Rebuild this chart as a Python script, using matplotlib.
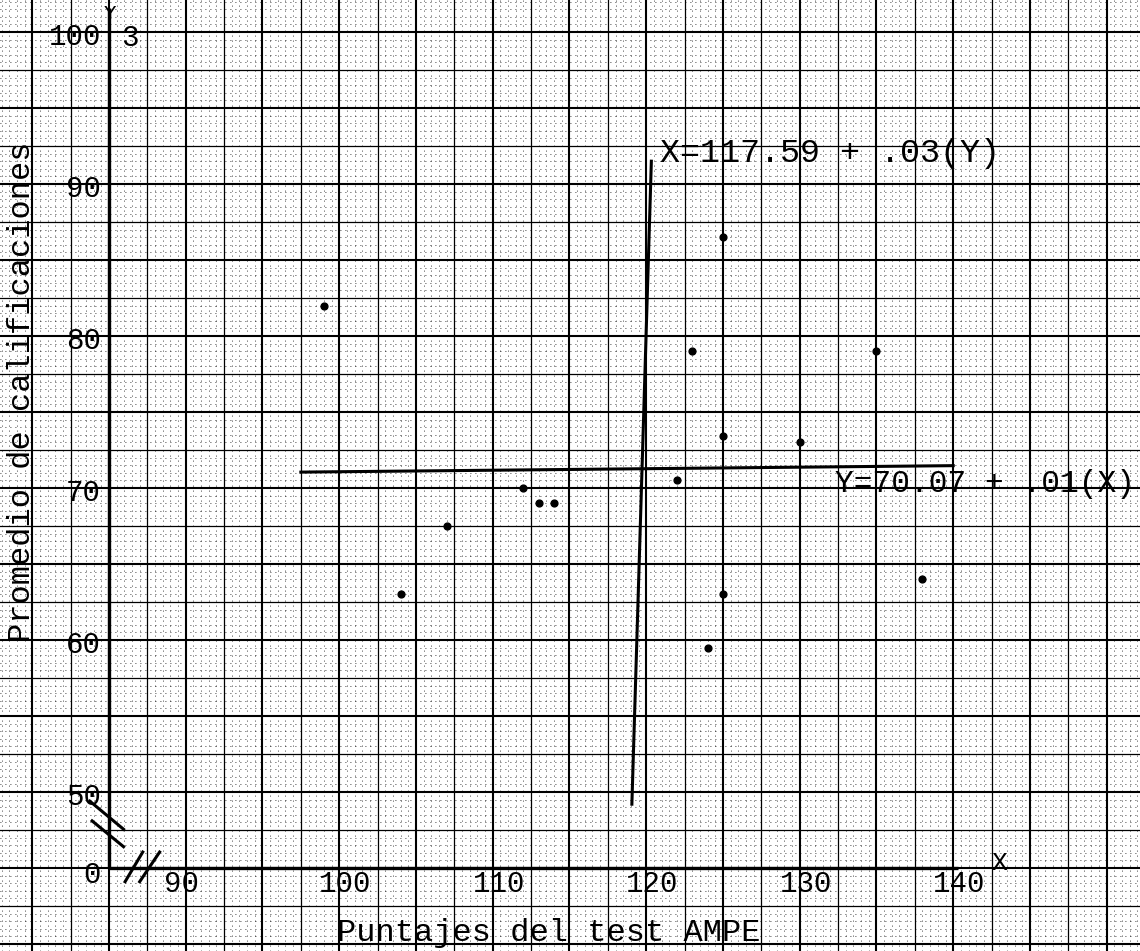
import numpy as np
import matplotlib.pyplot as plt

# puntajes AMPE (X) y promedio de calificaciones (Y)
ampe = [99, 104, 107, 112, 113, 114, 122, 123, 124, 125, 125, 125, 130, 135, 138]
promedio = [82, 63, 67.5, 70, 69, 69, 70.5, 79, 59.5, 86.5, 73.4, 63, 73, 79, 64]

# rectas de regresion
a_yx, b_yx = 70.07, 0.01   # Y = a + b X
a_xy, b_xy = 117.59, 0.03  # X = a + b Y

x_ticks = [90, 100, 110, 120, 130, 140]
y_ticks = [50, 60, 70, 80, 90, 100]

x0, y0 = 85, 45  # origen real del grafico (ejes cortados)
mono = 'Liberation Mono'

fig = plt.figure(figsize=(11.4, 9.51), dpi=100)
ax = fig.add_axes([0, 0, 1, 1])
ax.set_xlim(77.90, 152.17)
ax.set_ylim(39.54, 102.105)
ax.axis('off')

xmin, xmax = ax.get_xlim()
ymin, ymax = ax.get_ylim()

# papel milimetrado
fine_x = [v for v in np.arange(77.5, 152.6, 0.5) if v % 2.5]
fine_y = [v for v in np.arange(37.5, 102.6, 0.5) if v % 2.5]
ax.vlines(fine_x, ymin, ymax, colors='k', linestyles=(0, (1, 5)), lw=0.6)
ax.hlines(fine_y, xmin, xmax, colors='k', linestyles=(0, (1, 5)), lw=0.6)
for v in np.arange(77.5, 152.6, 2.5):
    ax.axvline(v, color='k', lw=1.5 if v % 5 == 0 else 0.9)
for v in np.arange(37.5, 102.6, 2.5):
    ax.axhline(v, color='k', lw=1.5 if v % 5 == 0 else 0.9)

# ejes
ax.plot([x0, x0], [y0, 101.6], color='k', lw=2.4, solid_capstyle='butt')
ax.plot([x0, 140.3], [y0, y0], color='k', lw=2.4, solid_capstyle='butt')
ax.text(x0 + 0.05, 101.2, 'Y', fontsize=15, family=mono, ha='center', va='center')
ax.text(143.0, y0 + 0.3, 'X', fontsize=19, family=mono, ha='center', va='center')

# marcas de corte
ax.plot([x0 - 1.25, x0 + 0.95], [y0 + 4.4, y0 + 2.55], color='k', lw=2.2)
ax.plot([x0 - 1.1, x0 + 0.95], [y0 + 3.1, y0 + 1.4], color='k', lw=2.2)
ax.plot([x0 + 1.05, x0 + 2.2], [y0 - 0.9, y0 + 1.05], color='k', lw=2.2)
ax.plot([x0 + 2.0, x0 + 3.3], [y0 - 0.9, y0 + 1.05], color='k', lw=2.2)

# etiquetas de los ejes
for v in x_ticks:
    ax.annotate(str(v), (v, y0), xytext=(6 if v > 90 else -4, -16),
                textcoords='offset pixels', fontsize=21, family=mono,
                ha='center', va='center')
for v in y_ticks:
    ax.annotate(str(v), (x0, v), xytext=(-8, -5),
                textcoords='offset pixels', fontsize=21, family=mono,
                ha='right', va='center')
ax.annotate('0', (x0, y0), xytext=(-8, -7), textcoords='offset pixels',
            fontsize=21, family=mono, ha='right', va='center')
ax.annotate('3', (x0, 100), xytext=(21, -6), textcoords='offset pixels',
            fontsize=21, family=mono, ha='center', va='center')

ax.text(113.66, 40.75, 'Puntajes del test AMPE', fontsize=23, family=mono,
        ha='center', va='center')
ax.text(79.33, 76.3, 'Promedio de calificaciones', fontsize=23, family=mono,
        ha='center', va='center', rotation=90)

# datos
ax.scatter(ampe, promedio, s=24, color='k', zorder=5)

# recta Y sobre X
xr = np.array([97.5, 140.0])
ax.plot(xr, a_yx + b_yx * xr, color='k', lw=2.2)
ax.text(132.3, 70.25, 'Y=70.07 + .01(X)', fontsize=22.5, family=mono,
        ha='left', va='center')

# recta X sobre Y
yr = np.array([49.2, 91.5])
ax.plot(a_xy + b_xy * yr, yr, color='k', lw=2.2)
ax.text(120.9, 92.0, 'X=117.59 + .03(Y)', fontsize=24, family=mono,
        ha='left', va='center')

fig.savefig('out.png', dpi=100, facecolor='white')
